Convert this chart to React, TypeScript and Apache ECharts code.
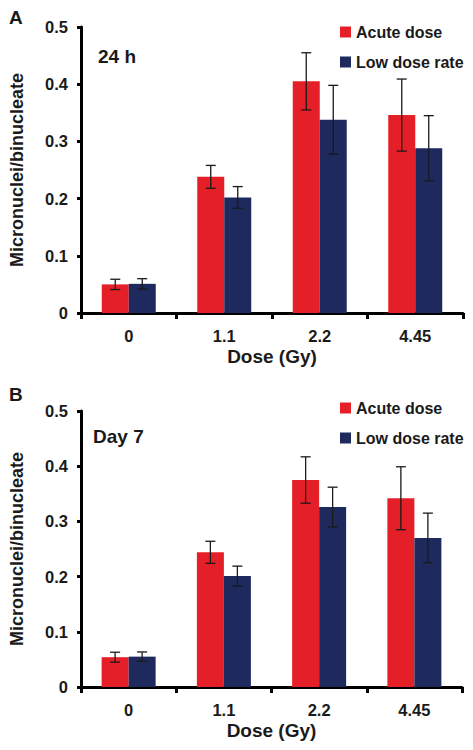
import React, { useEffect, useRef } from "react";
import * as echarts from "echarts";

const doses = ["0", "1.1", "2.2", "4.45"];
const yTicks = [0, 0.1, 0.2, 0.3, 0.4, 0.5];

const acute24h = [0.05, 0.238, 0.405, 0.346];
const acute24hErr = [0.009, 0.02, 0.05, 0.063];
const lowRate24h = [0.051, 0.202, 0.338, 0.288];
const lowRate24hErr = [0.009, 0.019, 0.06, 0.057];

const acuteDay7 = [0.054, 0.244, 0.375, 0.342];
const acuteDay7Err = [0.009, 0.02, 0.042, 0.057];
const lowRateDay7 = [0.055, 0.201, 0.326, 0.27];
const lowRateDay7Err = [0.0085, 0.018, 0.036, 0.045];

const RED = "#e41f27";
const NAVY = "#1e2a5e";
const FONT = "Liberation Sans, Arial, sans-serif";
const BAR_W = 27;

function errSeries(vals: number[], errs: number[], gi: number, offset: number) {
  return {
    type: "custom",
    xAxisIndex: gi,
    yAxisIndex: gi,
    z: 5,
    silent: true,
    data: vals.map((v, i) => [i, v, errs[i]]),
    encode: { x: 0, y: 1 },
    renderItem: (params: any, api: any) => {
      const i = api.value(0);
      const v = api.value(1);
      const e = api.value(2);
      const top = api.coord([i, v + e]);
      const bot = api.coord([i, v - e]);
      const x = top[0] + offset;
      const cap = 5;
      const style = { stroke: "#1a1a1a", lineWidth: 1.3 };
      return {
        type: "group",
        children: [
          { type: "line", shape: { x1: x, y1: top[1], x2: x, y2: bot[1] }, style },
          { type: "line", shape: { x1: x - cap, y1: top[1], x2: x + cap, y2: top[1] }, style },
          { type: "line", shape: { x1: x - cap, y1: bot[1], x2: x + cap, y2: bot[1] }, style },
        ],
      };
    },
  };
}

function xAxisFor(gi: number) {
  return {
    type: "category",
    gridIndex: gi,
    data: doses,
    name: "Dose (Gy)",
    nameLocation: "middle",
    nameGap: 34,
    nameTextStyle: { fontFamily: FONT, fontWeight: "bold", fontSize: 19, color: "#1a1a1a" },
    axisLine: { lineStyle: { color: "#000", width: 3 } },
    axisTick: { show: true, length: 6, lineStyle: { color: "#000", width: 3 } },
    axisLabel: { margin: 14, fontFamily: FONT, fontWeight: "bold", fontSize: 16.5, color: "#1a1a1a" },
    splitLine: { show: false },
  };
}

function yAxisFor(gi: number) {
  return {
    type: "value",
    gridIndex: gi,
    min: yTicks[0],
    max: yTicks[yTicks.length - 1],
    interval: 0.1,
    name: "Micronuclei/binucleate",
    nameLocation: "middle",
    nameGap: 55,
    nameTextStyle: { fontFamily: FONT, fontWeight: "bold", fontSize: 18, color: "#1a1a1a" },
    axisLine: { show: true, lineStyle: { color: "#000", width: 3 } },
    axisTick: { show: true, length: 4, lineStyle: { color: "#000", width: 3 } },
    axisLabel: {
      margin: 13,
      fontFamily: FONT,
      fontWeight: "bold",
      fontSize: 16.5,
      color: "#1a1a1a",
      formatter: (v: number) => (v === 0 ? "0" : v.toFixed(1)),
    },
    splitLine: { show: false },
  };
}

function barSeries(name: string, vals: number[], color: string, gi: number) {
  return {
    type: "bar",
    name,
    xAxisIndex: gi,
    yAxisIndex: gi,
    data: vals,
    barWidth: BAR_W,
    barGap: "0%",
    itemStyle: { color },
  };
}

export default function App() {
  const ref = useRef<HTMLDivElement>(null);
  useEffect(() => {
    if (!ref.current) return;
    const chart = echarts.init(ref.current, null, { renderer: "svg" });
    const legendText = { fontFamily: FONT, fontWeight: "bold", fontSize: 16, color: "#1a1a1a" };
    chart.setOption({
      animation: false,
      backgroundColor: "#fff",
      grid: [
        { left: 81, top: 27, width: 382, height: 286 },
        { left: 81, top: 411, width: 381, height: 276 },
      ],
      xAxis: [xAxisFor(0), xAxisFor(1)],
      yAxis: [yAxisFor(0), yAxisFor(1)],
      legend: [
        {
          orient: "vertical",
          left: 335,
          top: 19,
          itemWidth: 11,
          itemHeight: 11,
          itemGap: 14,
          icon: "rect",
          textStyle: legendText,
          data: ["Acute dose", "Low dose rate"],
        },
        {
          orient: "vertical",
          left: 335,
          top: 395,
          itemWidth: 11,
          itemHeight: 11,
          itemGap: 14,
          icon: "rect",
          textStyle: legendText,
          data: ["Acute dose", "Low dose rate"],
        },
      ],
      graphic: [
        { type: "text", left: 9, top: 8, style: { text: "A", font: `bold 19px ${FONT}`, fill: "#1a1a1a" } },
        { type: "text", left: 98, top: 47, style: { text: "24 h", font: `bold 19px ${FONT}`, fill: "#1a1a1a" } },
        { type: "text", left: 9, top: 385, style: { text: "B", font: `bold 19px ${FONT}`, fill: "#1a1a1a" } },
        { type: "text", left: 93, top: 427, style: { text: "Day 7", font: `bold 19px ${FONT}`, fill: "#1a1a1a" } },
      ],
      series: [
        barSeries("Acute dose", acute24h, RED, 0),
        barSeries("Low dose rate", lowRate24h, NAVY, 0),
        errSeries(acute24h, acute24hErr, 0, -BAR_W / 2),
        errSeries(lowRate24h, lowRate24hErr, 0, BAR_W / 2),
        barSeries("Acute dose", acuteDay7, RED, 1),
        barSeries("Low dose rate", lowRateDay7, NAVY, 1),
        errSeries(acuteDay7, acuteDay7Err, 1, -BAR_W / 2),
        errSeries(lowRateDay7, lowRateDay7Err, 1, BAR_W / 2),
      ],
    });
    return () => chart.dispose();
  }, []);
  return (
    <div
      ref={ref}
      style={{ position: "fixed", left: 0, top: 0, width: 473, height: 750, background: "#fff" }}
    />
  );
}
